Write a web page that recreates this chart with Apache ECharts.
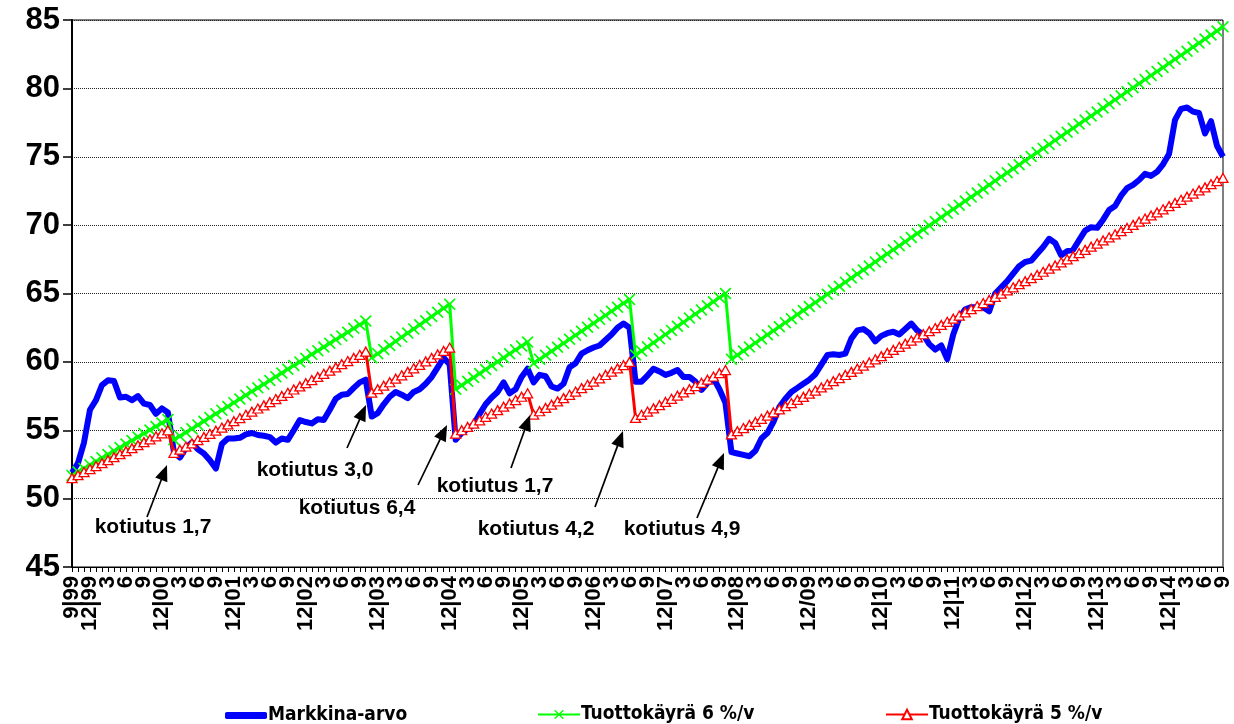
<!DOCTYPE html>
<html><head><meta charset="utf-8">
<script src="https://cdn.jsdelivr.net/npm/echarts@6/dist/echarts.min.js"></script>
<style>html,body{margin:0;padding:0;background:#fff}#c{width:1234px;height:724px}</style>
</head><body><div id="c"></div>
<script>
// ---- data ----
const startYear = 1999, startMonth = 9, monthCount = 193;   // 9/1999 .. 9/2015 monthly
const yTicks = [45, 50, 55, 60, 65, 70, 75, 80, 85];
const seriesNames = ['Markkina-arvo', 'Tuottokäyrä 6 %/v', 'Tuottokäyrä 5 %/v'];

const markkinaArvo = [
  51.9, 52.6, 54.1, 56.5, 57.2, 58.3, 58.65, 58.6, 57.4, 57.45,
  57.2, 57.5, 56.95, 56.85, 56.2, 56.6, 56.3, 53.4, 53.0, 53.7,
  54.1, 53.6, 53.3, 52.8, 52.2, 54.0, 54.4, 54.4, 54.45, 54.7,
  54.8, 54.65, 54.6, 54.5, 54.1, 54.4, 54.3, 55.0, 55.75, 55.6,
  55.5, 55.8, 55.75, 56.5, 57.3, 57.6, 57.65, 58.1, 58.5, 58.7,
  56.0, 56.25, 56.9, 57.45, 57.8, 57.6, 57.35, 57.8, 58.0, 58.4,
  58.9, 59.6, 60.3, 59.8, 54.3, 54.8, 55.1, 55.4, 56.2, 56.9,
  57.4, 57.8, 58.5, 57.7, 58.0, 58.9, 59.5, 58.5, 59.05, 58.95,
  58.2, 58.05, 58.4, 59.6, 59.9, 60.6, 60.85, 61.05, 61.2, 61.6,
  62.0, 62.5, 62.8, 62.5, 58.55, 58.55, 59.0, 59.5, 59.3, 59.05,
  59.2, 59.4, 58.9, 58.9, 58.55, 57.95, 58.45, 58.8, 58.0, 57.0,
  53.4, 53.3, 53.2, 53.1, 53.5, 54.4, 54.8, 55.6, 56.7, 57.3,
  57.8, 58.1, 58.4, 58.7, 59.1, 59.8, 60.5, 60.55, 60.5, 60.6,
  61.7, 62.3, 62.4, 62.1, 61.5, 61.9, 62.1, 62.2, 62.0, 62.4,
  62.8, 62.3, 62.0, 61.3, 60.9, 61.2, 60.2, 62.0, 63.2, 63.85,
  64.0, 64.0, 64.0, 63.7, 65.0, 65.45, 65.9, 66.45, 67.0, 67.3,
  67.4, 67.9, 68.4, 69.0, 68.7, 67.8, 68.1, 68.2, 68.9, 69.6,
  69.85, 69.8, 70.4, 71.1, 71.4, 72.15, 72.7, 72.95, 73.3, 73.75,
  73.6, 73.9, 74.45, 75.2, 77.7, 78.5, 78.6, 78.3, 78.2, 76.7,
  77.6, 75.8, 75.0
];

const tuotto6 = [
  51.70, 51.96, 52.21, 52.47, 52.72, 52.98, 53.23, 53.49, 53.74, 54.00,
  54.25, 54.51, 54.76, 55.02, 55.27, 55.53, 55.78,
  54.30, 54.57, 54.84, 55.11, 55.39, 55.66, 55.93, 56.20, 56.47, 56.74,
  57.02, 57.29, 57.56, 57.83, 58.10, 58.37, 58.64, 58.92, 59.19, 59.46,
  59.73, 60.00, 60.27, 60.55, 60.82, 61.09, 61.36, 61.63, 61.90, 62.17,
  62.45, 62.72, 62.99,
  60.30, 60.60, 60.90, 61.20, 61.51, 61.81, 62.11, 62.41, 62.71, 63.01,
  63.32, 63.62, 63.92, 64.22,
  58.00, 58.29, 58.58, 58.86, 59.15, 59.44, 59.73, 60.01, 60.30, 60.59,
  60.88, 61.16, 61.45,
  59.90, 60.19, 60.48, 60.78, 61.07, 61.36, 61.65, 61.94, 62.24, 62.53,
  62.82, 63.11, 63.40, 63.70, 63.99, 64.28, 64.57,
  60.50, 60.80, 61.10, 61.40, 61.70, 62.00, 62.30, 62.60, 62.90, 63.20,
  63.50, 63.80, 64.10, 64.40, 64.70, 65.00,
  60.20, 60.50, 60.79, 61.09, 61.39, 61.68, 61.98, 62.27, 62.57, 62.87,
  63.16, 63.46, 63.76, 64.05, 64.35, 64.64, 64.94, 65.24, 65.53, 65.83,
  66.13, 66.42, 66.72, 67.01, 67.31, 67.61, 67.90, 68.20, 68.50, 68.79,
  69.09, 69.39, 69.68, 69.98, 70.27, 70.57, 70.87, 71.16, 71.46, 71.76,
  72.05, 72.35, 72.64, 72.94, 73.24, 73.53, 73.83, 74.13, 74.42, 74.72,
  75.02, 75.31, 75.61, 75.90, 76.20, 76.50, 76.79, 77.09, 77.39, 77.68,
  77.98, 78.27, 78.57, 78.87, 79.16, 79.46, 79.76, 80.05, 80.35, 80.64,
  80.94, 81.24, 81.53, 81.83, 82.13, 82.42, 82.72, 83.02, 83.31, 83.61,
  83.90, 84.20, 84.50
];

const tuotto5 = [
  51.50, 51.72, 51.94, 52.16, 52.38, 52.59, 52.81, 53.03, 53.25, 53.47,
  53.69, 53.91, 54.13, 54.34, 54.56, 54.78, 55.00,
  53.35, 53.58, 53.81, 54.04, 54.28, 54.51, 54.74, 54.97, 55.20, 55.43,
  55.66, 55.89, 56.13, 56.36, 56.59, 56.82, 57.05, 57.28, 57.51, 57.74,
  57.98, 58.21, 58.44, 58.67, 58.90, 59.13, 59.36, 59.59, 59.83, 60.06,
  60.29, 60.52, 60.75,
  57.75, 58.00, 58.26, 58.51, 58.77, 59.02, 59.27, 59.53, 59.78, 60.03,
  60.29, 60.54, 60.80, 61.05,
  54.75, 55.00, 55.24, 55.49, 55.73, 55.98, 56.22, 56.47, 56.72, 56.96,
  57.21, 57.45, 57.70,
  56.15, 56.39, 56.63, 56.87, 57.11, 57.35, 57.59, 57.83, 58.08, 58.32,
  58.56, 58.80, 59.04, 59.28, 59.52, 59.76, 60.00,
  55.90, 56.13, 56.37, 56.60, 56.83, 57.07, 57.30, 57.53, 57.77, 58.00,
  58.23, 58.47, 58.70, 58.93, 59.17, 59.40,
  54.70, 54.93, 55.16, 55.39, 55.61, 55.84, 56.07, 56.30, 56.53, 56.76,
  56.99, 57.22, 57.44, 57.67, 57.90, 58.13, 58.36, 58.59, 58.82, 59.04,
  59.27, 59.50, 59.73, 59.96, 60.19, 60.42, 60.65, 60.87, 61.10, 61.33,
  61.56, 61.79, 62.02, 62.25, 62.47, 62.70, 62.93, 63.16, 63.39, 63.62,
  63.85, 64.08, 64.30, 64.53, 64.76, 64.99, 65.22, 65.45, 65.68, 65.90,
  66.13, 66.36, 66.59, 66.82, 67.05, 67.28, 67.50, 67.73, 67.96, 68.19,
  68.42, 68.65, 68.88, 69.11, 69.33, 69.56, 69.79, 70.02, 70.25, 70.48,
  70.71, 70.93, 71.16, 71.39, 71.62, 71.85, 72.08, 72.31, 72.54, 72.76,
  72.99, 73.22, 73.45
];

const noteTexts = ['kotiutus 1,7', 'kotiutus 3,0', 'kotiutus 6,4', 'kotiutus 1,7', 'kotiutus 4,2', 'kotiutus 4,9'];

// ---- categories (months) ----
const categories = [];
for (let i = 0; i < monthCount; i++) {
  const m0 = startMonth - 1 + i;
  const y = startYear + Math.floor(m0 / 12);
  const m = (m0 % 12) + 1;
  categories.push(y + '-' + (m < 10 ? '0' + m : m));
}
function tickLabel(val, idx) {
  const y = +val.slice(0, 4), m = +val.slice(5);
  if (m % 3 !== 0) return '';
  const yy = String(y).slice(2);
  if (idx === 0) return m + '|' + yy;
  if (m === 12) return '12' + (yy === '09' ? '/' : '|') + yy;
  return String(m);
}

// ---- annotation layout (pixels) ----
const noteLayout = [
  { tx: 153, ty: 527, ax: 147, ay: 517, hx: 167, hy: 465 },
  { tx: 315, ty: 470, ax: 347, ay: 448, hx: 366, hy: 405 },
  { tx: 357, ty: 508, ax: 418, ay: 485, hx: 447, hy: 425 },
  { tx: 495, ty: 486, ax: 511, ay: 468, hx: 530, hy: 415 },
  { tx: 536, ty: 529, ax: 595, ay: 507, hx: 623, hy: 431 },
  { tx: 682, ty: 529, ax: 697, ay: 518, hx: 724, hy: 453 }
];

const graphics = [];
noteLayout.forEach((n, i) => {
  graphics.push({
    type: 'text', x: n.tx, y: n.ty, z: 100,
    style: { text: noteTexts[i], font: 'bold 21px "Liberation Sans", Arial, sans-serif', fill: '#000',
             textAlign: 'center', textVerticalAlign: 'middle' }
  });
  const dx = n.hx - n.ax, dy = n.hy - n.ay, len = Math.hypot(dx, dy);
  const ux = dx / len, uy = dy / len, px = -uy, py = ux;
  const L = 16, W = 6.5;
  const bx = n.hx - ux * L, by = n.hy - uy * L;
  graphics.push({
    type: 'line', z: 100,
    shape: { x1: n.ax, y1: n.ay, x2: bx + ux * 2, y2: by + uy * 2 },
    style: { stroke: '#000', lineWidth: 1.7 }
  });
  graphics.push({
    type: 'polygon', z: 100,
    shape: { points: [[n.hx, n.hy], [bx + px * W, by + py * W], [bx - px * W, by - py * W]] },
    style: { fill: '#000' }
  });
});

const chart = echarts.init(document.getElementById('c'), null, { renderer: 'canvas' });
const xMarker = 'path://M0,1L1,0L5,4L9,0L10,1L6,5L10,9L9,10L5,6L1,10L0,9L4,5Z';
const legendFont = { fontFamily: '"Liberation Sans Narrow", "DejaVu Sans Condensed", Arial, sans-serif',
                     fontWeight: 'bold', fontSize: 19, color: '#000', padding: [0, 0, 0, -4] };

chart.setOption({
  animation: false,
  backgroundColor: '#fff',
  grid: { left: 72, right: 10, top: 20, bottom: 157, show: true, borderColor: '#000', borderWidth: 1, containLabel: false },
  xAxis: {
    type: 'category', data: categories, boundaryGap: false,
    axisLine: { lineStyle: { color: '#000', width: 1 } },
    axisTick: { show: true, interval: 0, length: 5, lineStyle: { color: '#000', width: 1 } },
    axisLabel: {
      interval: 0, hideOverlap: false,
      rotate: 90, margin: 9,
      formatter: tickLabel,
      fontFamily: '"Liberation Sans", Arial, sans-serif', fontWeight: 'bold', fontSize: 22, color: '#000'
    },
    splitLine: { show: false }
  },
  yAxis: {
    type: 'value', min: yTicks[0], max: yTicks[yTicks.length - 1], interval: 5,
    axisLine: { show: true, lineStyle: { color: '#000', width: 2 } },
    axisTick: { show: true, length: 9, lineStyle: { color: '#000', width: 1.5 } },
    axisLabel: { fontFamily: '"Liberation Sans", Arial, sans-serif', fontWeight: 'bold', fontSize: 31, color: '#000', margin: 12 },
    splitLine: { show: true, lineStyle: { color: '#222', width: 1, type: [1, 1] } }
  },
  legend: [
    { data: [{ name: seriesNames[0], icon: 'roundRect' }], left: 220, top: 701, itemWidth: 42, itemHeight: 7, textStyle: legendFont },
    { data: [seriesNames[1]], left: 532, top: 700, itemWidth: 42, itemHeight: 12, textStyle: legendFont },
    { data: [seriesNames[2]], left: 880, top: 700, itemWidth: 42, itemHeight: 12, textStyle: legendFont }
  ],
  series: [
    {
      name: seriesNames[0], type: 'line', data: markkinaArvo, showSymbol: false, symbol: 'none',
      lineStyle: { color: '#0000ff', width: 6, join: 'round' }, itemStyle: { color: '#0000ff' }, z: 2
    },
    {
      name: seriesNames[1], type: 'line', data: tuotto6, symbol: xMarker, symbolSize: 12, showAllSymbol: true,
      lineStyle: { color: '#00ff00', width: 3 }, itemStyle: { color: '#00ff00' }, z: 3
    },
    {
      name: seriesNames[2], type: 'line', data: tuotto5, symbol: 'triangle', symbolSize: [10, 9], showAllSymbol: true,
      lineStyle: { color: '#ff0000', width: 3 },
      itemStyle: { color: '#ffffff', borderColor: '#ff0000', borderWidth: 1.3 }, z: 4
    }
  ],
  graphic: graphics
});
</script>
</body></html>
